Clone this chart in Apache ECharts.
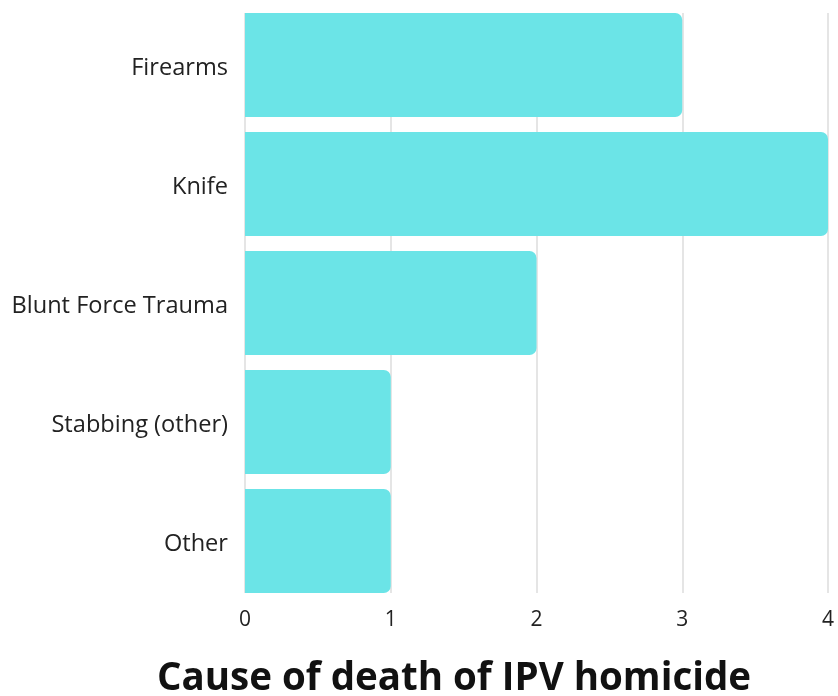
<!DOCTYPE html>
<html>
<head>
<meta charset="utf-8">
<script src="https://cdn.jsdelivr.net/npm/echarts@6/dist/echarts.min.js"></script>
<style>
  html, body { margin: 0; padding: 0; background: #ffffff; }
  #chart { width: 838px; height: 696px; }
</style>
</head>
<body>
<div id="chart"></div>
<script>
// Causes of death, listed top to bottom
const categories = ['Firearms', 'Knife', 'Blunt Force Trauma', 'Stabbing (other)', 'Other'];
const counts = [3, 4, 2, 1, 1];
const xTicks = [0, 1, 2, 3, 4];
const titleText = 'Cause of death of IPV homicide';

const FONT = '"Open Sans", "Noto Sans", sans-serif';
const chart = echarts.init(document.getElementById('chart'), null, { renderer: 'canvas' });

chart.setOption({
  backgroundColor: '#ffffff',
  animation: false,
  title: {
    text: titleText,
    left: 449,
    textAlign: 'center',
    top: 655,
    textStyle: { fontFamily: FONT, fontWeight: 'bold', fontSize: 38.5, color: '#111111' }
  },
  grid: [
    // bars and tick labels
    { left: 245, right: 10, top: 5.5, height: 595, containLabel: false },
    // vertical gridlines, spanning only the bars
    { left: 245, right: 10, top: 13, height: 580, containLabel: false }
  ],
  xAxis: [
    {
      gridIndex: 0,
      type: 'value',
      min: xTicks[0],
      max: xTicks[xTicks.length - 1],
      interval: 1,
      axisLine: { show: false },
      axisTick: { show: false },
      splitLine: { show: false },
      axisLabel: { fontFamily: FONT, fontSize: 21, color: '#222222', margin: 9 }
    },
    {
      gridIndex: 1,
      type: 'value',
      min: xTicks[0],
      max: xTicks[xTicks.length - 1],
      interval: 1,
      axisLine: { show: false },
      axisTick: { show: false },
      axisLabel: { show: false },
      splitLine: { show: true, lineStyle: { color: '#dcdcdc', width: 1.5 } }
    }
  ],
  yAxis: [
    {
      gridIndex: 0,
      type: 'category',
      data: categories,
      inverse: true,
      axisLine: { show: false },
      axisTick: { show: false },
      axisLabel: {
        margin: 17,
        formatter: (v) => '{cat|' + v + '}',
        rich: {
          cat: {
            fontFamily: FONT, fontSize: 23.6, color: '#222222',
            padding: [6, 0, 0, 0]
          }
        }
      }
    },
    {
      gridIndex: 1,
      type: 'category',
      data: categories,
      inverse: true,
      show: false
    }
  ],
  series: [
    {
      type: 'bar',
      xAxisIndex: 0,
      yAxisIndex: 0,
      data: counts,
      barCategoryGap: '12.6%',
      z: 3,
      itemStyle: { color: '#6be4e7', borderRadius: [0, 7, 7, 0] }
    }
  ]
});
</script>
</body>
</html>
